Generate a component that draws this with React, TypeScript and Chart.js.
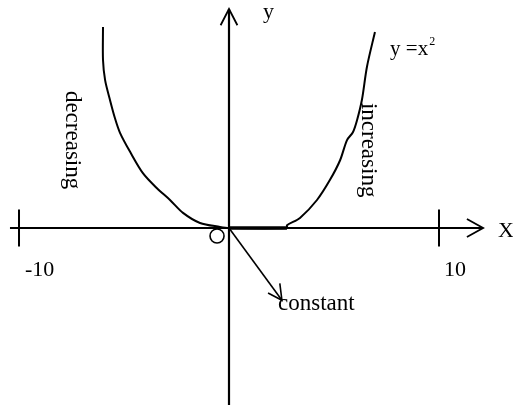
import React, { useEffect, useRef } from "react";
import { Chart, registerables } from "chart.js";

Chart.register(...registerables);

// Curve y = x^2 as sketched (decreasing, constant, increasing parts)
const curveX = [-6.0, -6.0, -5.9, -5.67, -5.43, -5.19, -4.71, -4.1, -3.43, -2.81, -2.19, -1.38, -0.43, 0, 2.76, 2.76, 3.38, 4.19, 4.81, 5.29, 5.62, 5.9, 6.1, 6.33, 6.57, 6.95];
const curveY = [35.9, 30.0, 26.4, 22.9, 19.6, 17.0, 13.6, 9.8, 7.1, 5.0, 2.7, 0.9, 0.2, 0, 0, 0.5, 1.8, 5.0, 8.6, 12.1, 15.7, 17.1, 19.3, 22.9, 28.8, 35.0];

// Axes extents
const xAxisRange = [-10.43, 12.1];
const yAxisRange = [-32, 39.1];

// Tick marks and labels
const tickValues = [-10, 10];
const tickLabels = ["-10", "10"];
const tickHalfHeight = 3.3;

// "constant" arrow from origin
const constArrowX = [0, 2.52];
const constArrowY = [0, -12.9];

// Open circle near origin
const circleX = [-0.57];
const circleY = [-1.43];

const BLACK = "#000";
const FONT = '"Liberation Serif", "DejaVu Serif", serif';

function pts(xs: number[], ys: number[]) {
  return xs.map((x, i) => ({ x, y: ys[i] }));
}

function lineDs(data: { x: number; y: number }[], width = 2, tension = 0) {
  return {
    data,
    showLine: true,
    borderColor: BLACK,
    borderWidth: width,
    pointRadius: 0,
    fill: false,
    tension,
  };
}

export default function App() {
  const ref = useRef<HTMLCanvasElement | null>(null);

  useEffect(() => {
    if (!ref.current) return;

    const xTip = xAxisRange[1];
    const yTip = yAxisRange[1];

    const datasets: any[] = [
      lineDs(pts(xAxisRange, [0, 0]), 2.2),
      lineDs(pts([0, 0], yAxisRange), 2.2),
      lineDs(pts(curveX, curveY), 2, 0.3),
      // flat (constant) part drawn thicker over the axis
      lineDs(pts([curveX[13], curveX[14]], [curveY[13], curveY[14]]), 3.4),
      // x-axis arrowhead
      lineDs(pts([xTip - 0.77, xTip, xTip - 0.77], [1.6, 0, -1.6]), 1.8),
      // y-axis arrowhead
      lineDs(pts([-0.4, 0, 0.4], [yTip - 2.9, yTip, yTip - 2.9]), 1.8),
      // constant arrow
      lineDs(pts(constArrowX, constArrowY), 1.6),
      lineDs(
        pts(
          [constArrowX[1] - 0.1, constArrowX[1], constArrowX[1] - 0.66],
          [constArrowY[1] + 3.0, constArrowY[1], constArrowY[1] + 1.3]
        ),
        1.6
      ),
      {
        data: pts(circleX, circleY),
        showLine: false,
        pointRadius: 7,
        pointBorderWidth: 1.6,
        pointBorderColor: BLACK,
        pointBackgroundColor: "#fff",
      },
    ];
    tickValues.forEach((t) => {
      datasets.push(lineDs(pts([t, t], [tickHalfHeight, -tickHalfHeight]), 2));
    });

    const textPlugin = {
      id: "texts",
      afterDatasetsDraw(chart: any) {
        const ctx = chart.ctx as CanvasRenderingContext2D;
        const sx = chart.scales.x;
        const sy = chart.scales.y;
        const px = (v: number) => sx.getPixelForValue(v);
        const py = (v: number) => sy.getPixelForValue(v);
        ctx.save();
        ctx.fillStyle = BLACK;
        ctx.textBaseline = "alphabetic";
        ctx.textAlign = "left";

        ctx.font = `22px ${FONT}`;
        ctx.fillText("y", px(1.62), py(37.5));

        ctx.font = `21px ${FONT}`;
        const eq = "y =x";
        ctx.fillText(eq, px(7.67), py(30.9));
        const w = ctx.measureText(eq).width;
        ctx.font = `12px ${FONT}`;
        ctx.fillText("2", px(7.67) + w + 1, py(30.9) - 10);

        ctx.font = `22px ${FONT}`;
        ctx.fillText("X", px(12.81), py(-1.6));

        ctx.font = `23px ${FONT}`;
        ctx.fillText("constant", px(2.43) - 2, py(-14.6));

        ctx.font = `22px ${FONT}`;
        tickValues.forEach((t, i) => {
          ctx.fillText(tickLabels[i], px(t) + (t < 0 ? 6 : 5), py(-8.6));
        });

        // rotated labels
        const rot = (txt: string, cx: number, cy: number) => {
          ctx.save();
          ctx.translate(cx, cy);
          ctx.rotate(Math.PI / 2);
          ctx.textAlign = "center";
          ctx.textBaseline = "middle";
          ctx.font = `23px ${FONT}`;
          ctx.fillText(txt, 0, 0);
          ctx.restore();
        };
        rot("decreasing", px(-7.48), py(15.7));
        rot("increasing", px(6.62), py(13.9));

        ctx.restore();
      },
    };

    const chart = new Chart(ref.current, {
      type: "scatter",
      data: { datasets },
      options: {
        animation: false,
        responsive: false,
        devicePixelRatio: 1,
        layout: { padding: 0, autoPadding: false },
        scales: {
          x: { type: "linear", min: -10.905, max: 13.524, display: false },
          y: { type: "linear", min: -31.607, max: 40.714, display: false },
        },
        plugins: {
          legend: { display: false },
          tooltip: { enabled: false },
        },
      },
      plugins: [textPlugin],
    } as any);

    return () => chart.destroy();
  }, []);

  return (
    <div style={{ position: "absolute", left: 0, top: 0, width: 513, height: 405, background: "#fff" }}>
      <canvas ref={ref} width={513} height={405} style={{ width: 513, height: 405, display: "block" }} />
    </div>
  );
}
